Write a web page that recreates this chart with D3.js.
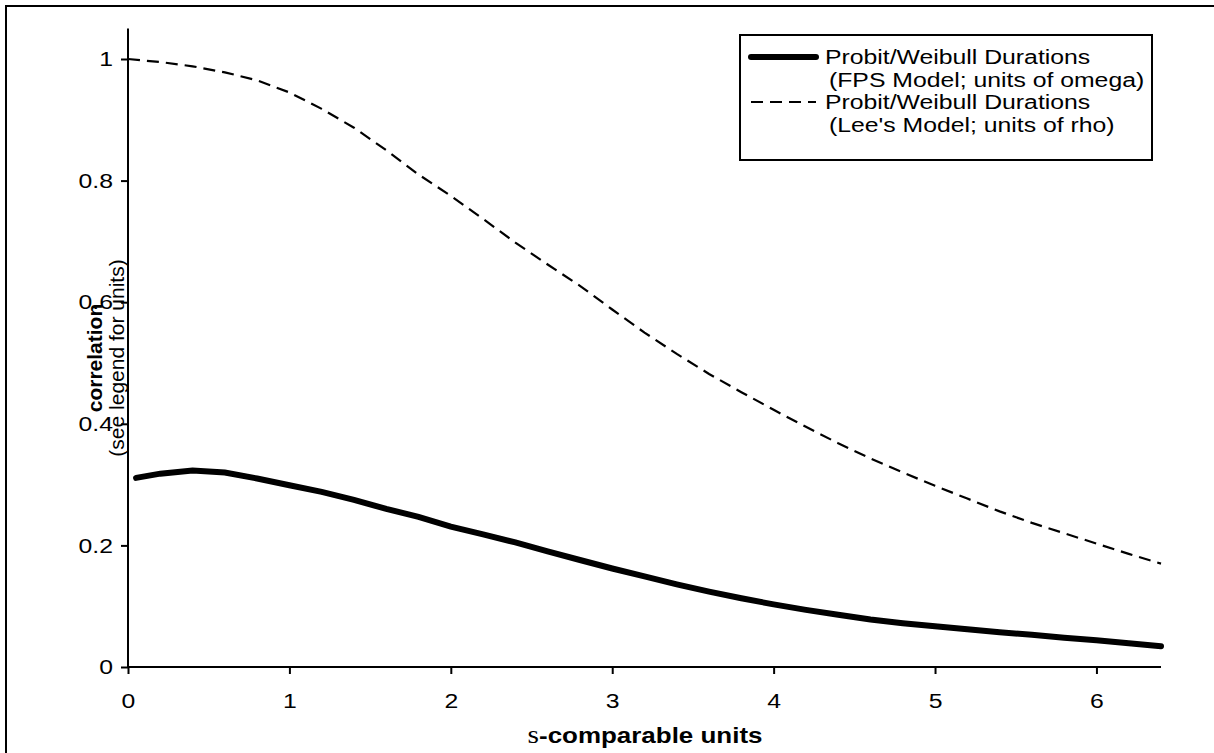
<!DOCTYPE html>
<html lang="en">
	<head>
		<meta charset="UTF-8" />
		<title>correlation vs s-comparable units</title>
		<script src="https://d3js.org/d3.v7.min.js"></script>
		<style>
			body { margin: 0; background: #fff; }
			svg { display: block; font-family: "Liberation Sans", Arial, sans-serif; }
		</style>
	</head>
	<body>
		<svg id="svg" width="1214" height="753"></svg>
		<script>
			// values
			const xFps = [0.05, 0.2, 0.4, 0.6, 0.8, 1.0, 1.2, 1.4, 1.6, 1.8, 2.0, 2.2, 2.4, 2.6, 2.8, 3.0, 3.2, 3.4, 3.6, 3.8, 4.0, 4.2, 4.4, 4.6, 4.8, 5.0, 5.2, 5.4, 5.6, 5.8, 6.0, 6.2, 6.4];
			const fps = [0.311, 0.318, 0.323, 0.32, 0.31, 0.299, 0.288, 0.275, 0.26, 0.247, 0.231, 0.218, 0.205, 0.19, 0.176, 0.162, 0.149, 0.136, 0.124, 0.113, 0.103, 0.094, 0.086, 0.078, 0.072, 0.067, 0.062, 0.057, 0.053, 0.048, 0.044, 0.039, 0.034];
			const xLee = [0, 0.2, 0.4, 0.6, 0.8, 1.0, 1.2, 1.4, 1.6, 1.8, 2.0, 2.2, 2.4, 2.6, 2.8, 3.0, 3.2, 3.4, 3.6, 3.8, 4.0, 4.2, 4.4, 4.6, 4.8, 5.0, 5.2, 5.4, 5.6, 5.8, 6.0, 6.2, 6.4];
			const lee = [1.0, 0.995, 0.988, 0.978, 0.965, 0.945, 0.918, 0.887, 0.85, 0.81, 0.775, 0.737, 0.698, 0.662, 0.627, 0.588, 0.55, 0.515, 0.482, 0.452, 0.423, 0.395, 0.368, 0.343, 0.32, 0.298, 0.277, 0.256, 0.237, 0.22, 0.203, 0.186, 0.17];
			const xTicks = [0, 1, 2, 3, 4, 5, 6];
			const yTicks = [0, 0.2, 0.4, 0.6, 0.8, 1];
			const legendLines = [
				["Probit/Weibull Durations", "(FPS Model; units of omega)"],
				["Probit/Weibull Durations", "(Lee's Model; units of rho)"]
			];

			// the original chart looks stretched sideways, text too
			const SX = 1.18;

			const svg = d3.select("svg");

			// outer frame
			svg.append("rect")
				.attr("x", 6).attr("y", 6)
				.attr("width", 1220).attr("height", 760)
				.attr("fill", "none").attr("stroke", "#000").attr("stroke-width", 2);

			const x = d3.scaleLinear().domain([0, 6.4]).range([128, 1161]);
			const y = d3.scaleLinear().domain([0, 1.05]).range([667, 28.6]);

			const xAxis = svg.append("g")
				.attr("transform", "translate(0,667)")
				.call(d3.axisBottom(x).tickValues(xTicks).tickFormat(d3.format("d")).tickSize(7).tickPadding(19));
			const yAxis = svg.append("g")
				.attr("transform", "translate(128,0)")
				.call(d3.axisLeft(y).tickValues(yTicks).tickFormat(d => d === 0 || d === 1 ? d : d3.format(".1f")(d)).tickSize(7).tickPadding(8));

			[xAxis, yAxis].forEach(g => {
				g.select(".domain").attr("stroke-width", 2).attr("d", g === xAxis ? "M128,0H1161" : "M0,667V28.6");
				g.selectAll(".tick line").attr("stroke-width", 2);
				g.selectAll("text").attr("font-size", 21).attr("fill", "#000")
					.attr("font-family", "'Liberation Sans', Arial, sans-serif");
			});
			// widen tick labels about their anchor
			xAxis.selectAll(".tick text").attr("transform", `scale(${SX},1)`);
			yAxis.selectAll(".tick text").each(function () {
				const t = d3.select(this);
				const tx = +t.attr("x");
				t.attr("x", tx / SX).attr("transform", `scale(${SX},1)`);
			});

			const line = d3.line().x(d => x(d[0])).y(d => y(d[1]));

			svg.append("path")
				.datum(d3.zip(xLee, lee))
				.attr("d", line)
				.attr("fill", "none").attr("stroke", "#000")
				.attr("stroke-width", 2.2).attr("stroke-dasharray", "12,7");

			svg.append("path")
				.datum(d3.zip(xFps, fps))
				.attr("d", line)
				.attr("fill", "none").attr("stroke", "#000")
				.attr("stroke-width", 6).attr("stroke-linecap", "round");

			// axis titles
			const yt = svg.append("text")
				.attr("transform", "translate(102,358) rotate(-90)")
				.attr("text-anchor", "middle").attr("font-size", 21);
			yt.append("tspan").attr("font-weight", "bold").text("correlation");
			yt.append("tspan").attr("x", 0).attr("dy", 22).text("(see legend for units)");

			const xt = svg.append("text")
				.attr("transform", `translate(645,743) scale(${SX},1)`)
				.attr("text-anchor", "middle").attr("font-size", 22).attr("font-weight", "bold");
			xt.append("tspan").attr("font-family", "'Liberation Serif', serif").attr("font-weight", "normal").attr("font-size", 25).text("s");
			xt.append("tspan").text("-comparable units");

			// legend
			const lg = svg.append("g");
			lg.append("rect")
				.attr("x", 740).attr("y", 35).attr("width", 412).attr("height", 125)
				.attr("fill", "#fff").attr("stroke", "#000").attr("stroke-width", 2);
			legendLines.forEach((t, i) => {
				const yy = 57 + i * 45;
				lg.append("line")
					.attr("x1", 751).attr("x2", 816).attr("y1", yy).attr("y2", yy)
					.attr("stroke", "#000")
					.attr("stroke-width", i === 0 ? 6 : 2)
					.attr("stroke-linecap", i === 0 ? "round" : "butt")
					.attr("stroke-dasharray", i === 0 ? null : "12,7");
				lg.append("text")
					.attr("transform", `translate(825,${yy + 7}) scale(${SX},1)`)
					.attr("font-size", 21)
					.text(t[0]);
				lg.append("text")
					.attr("transform", `translate(829,${yy + 30}) scale(${SX},1)`)
					.attr("font-size", 21)
					.text(t[1]);
			});
		</script>
	</body>
</html>
